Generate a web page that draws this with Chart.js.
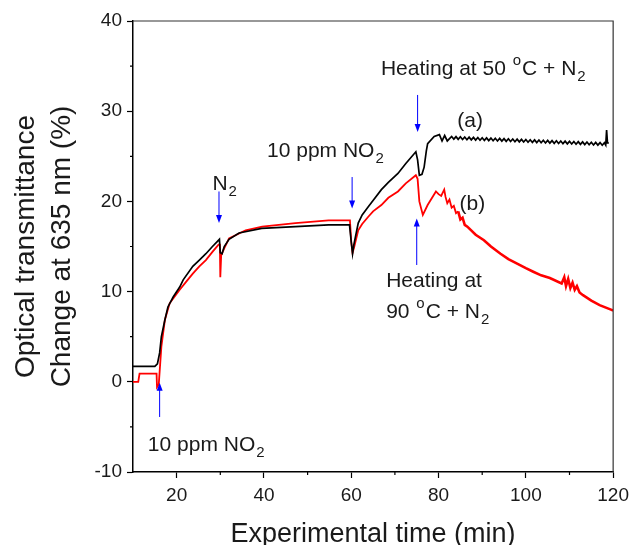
<!DOCTYPE html>
<html><head><meta charset="utf-8">
<script src="https://cdn.jsdelivr.net/npm/chart.js@4.4.1/dist/chart.umd.min.js"></script>
<style>html,body{margin:0;background:#fff}canvas{display:block}</style>
</head><body>
<canvas id="c" width="635" height="545"></canvas>
<script>
'use strict';
// Optical transmittance change vs. time, film (a) black, film (b) red.
Chart.defaults.font.family = 'Arial, "Liberation Sans", sans-serif';
Chart.defaults.color = '#1a1a1a';

// --- (a) 50 °C heating curve
const timeA = [10, 15.0, 15.6, 16.1, 16.5, 17.3, 18.0, 19.2, 20.7, 21.5, 23.7, 25.2, 26.7, 28.2, 29.8, 30.0, 30.4, 30.9, 32.0, 34.3, 39.5, 47.2, 54.8, 59.6,
  60.0, 60.3, 60.6, 61.6, 62.5, 63.9, 65.0, 66.9, 68.5, 70.7, 72.5, 74.8, 75.2, 75.6, 76.2, 76.7, 77.2, 77.5, 79.0, 80.2, 80.8, 81.4, 82.0,
  83, 83.5, 84, 84.5, 85, 85.5, 86, 86.5, 87, 87.5, 88, 88.5, 89, 89.5, 90, 90.5, 91, 91.5, 92, 92.5,
  93, 93.5, 94, 94.5, 95, 95.5, 96, 96.5, 97, 97.5, 98, 98.5, 99, 99.5, 100, 100.5, 101, 101.5, 102, 102.5,
  103, 103.5, 104, 104.5, 105, 105.5, 106, 106.5, 107, 107.5, 108, 108.5, 109, 109.5, 110, 110.5, 111, 111.5, 112, 112.5,
  113, 113.5, 114, 114.5, 115, 115.5, 116, 116.5, 117, 117.5, 118.0, 118.3, 118.5, 118.7, 119.0];
const valA = [1.7, 1.7, 2.0, 3.2, 5.0, 6.85, 8.3, 9.4, 10.5, 11.3, 12.8, 13.5, 14.2, 15.0, 15.8, 14.3, 14.2, 15.0, 15.8, 16.5, 17.0, 17.2, 17.4, 17.4,
  15.5, 14.2, 15.2, 17.6, 18.5, 19.4, 20.1, 21.3, 22.1, 23.1, 24.2, 25.5, 24.6, 22.9, 23.0, 23.8, 25.6, 26.4, 27.2, 27.4, 26.7, 27.3, 26.7,
  27.20, 26.90, 27.18, 26.88, 27.16, 26.86, 27.14, 26.84, 27.12, 26.82, 27.10, 26.80, 27.08, 26.78, 27.06, 26.76, 27.04, 26.74, 27.02, 26.72,
  27.00, 26.70, 26.98, 26.68, 26.96, 26.66, 26.94, 26.64, 26.92, 26.62, 26.90, 26.60, 26.88, 26.58, 26.86, 26.56, 26.84, 26.54, 26.82, 26.52,
  26.80, 26.50, 26.78, 26.48, 26.76, 26.46, 26.74, 26.44, 26.72, 26.42, 26.70, 26.40, 26.68, 26.38, 26.66, 26.36, 26.64, 26.34, 26.62, 26.32,
  26.60, 26.30, 26.58, 26.28, 26.56, 26.26, 26.54, 26.24, 26.52, 26.22, 26.50, 26.25, 27.9, 26.5, 26.45];

// --- (b) 90 °C heating curve
const timeB = [10, 11.2, 11.5, 15.4, 15.5, 15.9, 16.5, 17.3, 18.4, 20.7, 22.2, 23.7, 25.2, 26.7, 28.2, 29.6, 29.9, 30.0, 30.2, 30.9, 32.0, 35.8, 39.6,
  47.2, 54.8, 59.7, 60.0, 60.3, 60.7, 61.6, 62.5, 63.9, 65.0, 66.9, 68.5, 70.7, 72.5, 74.8, 75.2, 75.6, 76.4, 77.5, 79.4, 80.0, 80.6, 81.3, 81.6,
  82.0, 82.5, 83.0, 83.5, 84.0, 84.5, 85.0, 85.5, 86.0, 86.6, 88.5, 90.4, 92.0, 94.2, 96.0, 98.0, 100.0, 101.7, 103.5, 105.5, 108.2, 108.8, 109.2,
  109.7, 110.2, 110.7, 111.2, 111.7, 112.3, 113.1, 115.0, 116.9, 119.5, 120];
const valB = [0.0, 0.0, 0.9, 0.9, -0.6, -0.3, 3.9, 6.85, 8.7, 10.2, 11.1, 12.0, 12.8, 13.5, 14.4, 15.2, 15.2, 11.6, 14.0, 14.8, 15.9, 16.8, 17.2,
  17.6, 17.9, 17.9, 15.5, 14.3, 15.0, 16.8, 17.5, 18.3, 18.9, 19.6, 20.4, 21.1, 22.0, 22.9, 22.5, 20.0, 18.5, 19.6, 21.1, 20.8, 20.6, 21.3, 20.5,
  19.8, 20.2, 19.3, 19.5, 18.7, 18.9, 18.0, 18.2, 17.4, 17.2, 16.3, 15.7, 15.0, 14.2, 13.6, 13.1, 12.6, 12.2, 11.8, 11.5, 10.9, 11.6, 10.6,
  11.4, 10.4, 11.0, 10.2, 10.6, 9.9, 9.6, 9.0, 8.5, 8.0, 7.9];

const xTicks = [20, 40, 60, 80, 100, 120], xMinor = [30, 50, 70, 90, 110];
const yTicks = [-10, 0, 10, 20, 30, 40], yMinor = [-5, 5, 15, 25, 35];

// Annotations in data units: [text, 'sub'|'sup'|undefined]
const NOTES = [
  { x: 13.4, y: -7.7, parts: [['10 ppm NO'], ['2', 'sub']] },
  { x: 28.2, y: 21.3, parts: [['N'], ['2', 'sub']] },
  { x: 40.7, y: 24.9, parts: [['10 ppm NO'], ['2', 'sub']] },
  { x: 66.8, y: 34.0, parts: [['Heating at 50 '], ['o', 'sup'], ['C + N'], ['2', 'sub']] },
  { x: 84.3, y: 28.2, parts: [['(a)']] },
  { x: 84.8, y: 19.0, parts: [['(b)']] },
  { x: 68.0, y: 10.5, parts: [['Heating at']] },
  { x: 68.0, y: 7.1, parts: [['90 '], ['o', 'sup'], ['C + N'], ['2', 'sub']] },
];
const ARROWS = [
  { x: 16.1, from: -3.9, to: -0.1 },
  { x: 29.7, from: 21.1, to: 17.6 },
  { x: 60.2, from: 22.7, to: 19.2 },
  { x: 75.2, from: 31.8, to: 27.7 },
  { x: 75.0, from: 12.95, to: 18.1 },
];

const pts = (t, v) => t.map((x, i) => ({ x, y: v[i] }));
const FONT = 'Arial, "Liberation Sans", sans-serif';

const extras = {
  id: 'extras',
  afterDraw(ch) {
    const { ctx, chartArea: a, scales: { x, y } } = ch;
    ctx.save();
    // frame top/right
    ctx.strokeStyle = '#333'; ctx.lineWidth = 1.2;
    ctx.beginPath(); ctx.moveTo(a.left, a.top); ctx.lineTo(a.right, a.top); ctx.lineTo(a.right, a.bottom); ctx.stroke();
    // minor ticks
    ctx.strokeStyle = '#000'; ctx.lineWidth = 1.2; ctx.beginPath();
    xMinor.forEach(v => { const px = x.getPixelForValue(v); ctx.moveTo(px, a.bottom); ctx.lineTo(px, a.bottom + 3); });
    yMinor.forEach(v => { const py = y.getPixelForValue(v); ctx.moveTo(a.left, py); ctx.lineTo(a.left - 3, py); });
    ctx.stroke();
    // arrows
    ctx.strokeStyle = '#0000ff'; ctx.fillStyle = '#0000ff'; ctx.lineWidth = 1;
    ARROWS.forEach(ar => {
      const px = x.getPixelForValue(ar.x), p0 = y.getPixelForValue(ar.from), p1 = y.getPixelForValue(ar.to);
      const dir = p1 > p0 ? 1 : -1;
      ctx.beginPath(); ctx.moveTo(px, p0); ctx.lineTo(px, p1 - dir * 6); ctx.stroke();
      ctx.beginPath(); ctx.moveTo(px, p1); ctx.lineTo(px - 3, p1 - dir * 8); ctx.lineTo(px + 3, p1 - dir * 8); ctx.closePath(); ctx.fill();
    });
    // text notes
    ctx.fillStyle = '#1a1a1a'; ctx.textBaseline = 'alphabetic'; ctx.textAlign = 'left';
    NOTES.forEach(n => {
      let px = x.getPixelForValue(n.x); const py = y.getPixelForValue(n.y);
      n.parts.forEach(([s, kind]) => {
        const small = kind === 'sub' || kind === 'sup';
        ctx.font = (small ? 15 : 21) + 'px ' + FONT;
        const dy = kind === 'sub' ? 6 : kind === 'sup' ? -10 : 0;
        ctx.fillText(s, px + (small ? 1 : 0), py + dy);
        px += ctx.measureText(s).width + (small ? 2 : 0);
      });
    });
    ctx.restore();
  },
};

new Chart(document.getElementById('c'), {
  type: 'line',
  data: {
    datasets: [
      { label: '(a)', data: pts(timeA, valA), borderColor: '#000000', borderWidth: 1.7, pointRadius: 0, tension: 0 },
      { label: '(b)', data: pts(timeB, valB), borderColor: '#ff0000', borderWidth: 1.8, pointRadius: 0, tension: 0,
        segment: { borderWidth: c => (c.p0.parsed.x > 84 ? 2.6 : 1.8) } },
    ],
  },
  options: {
    responsive: false, animation: false,
    layout: { padding: { top: 21, right: 18, left: 0, bottom: 0 } },
    plugins: { legend: { display: false }, tooltip: { enabled: false } },
    scales: {
      x: {
        type: 'linear', min: 10, max: 120,
        afterBuildTicks: s => { s.ticks = xTicks.map(value => ({ value })); },
        afterFit: s => { s.height = 73; },
        grid: { drawOnChartArea: false, drawTicks: true, tickLength: 6, tickColor: '#000', tickWidth: 1.2 },
        border: { display: true, color: '#000', width: 1.5 },
        ticks: { font: { size: 19 }, padding: 6, color: '#1a1a1a', maxRotation: 0, autoSkip: false },
        title: { display: true, text: 'Experimental time (min)', font: { size: 27, lineHeight: 0.8 }, padding: 0, color: '#1a1a1a' },
      },
      y: {
        min: -10, max: 40,
        afterBuildTicks: s => { s.ticks = yTicks.map(value => ({ value })); },
        afterFit: s => { s.width = 133; },
        grid: { drawOnChartArea: false, drawTicks: true, tickLength: 6, tickColor: '#000', tickWidth: 1.2 },
        border: { display: true, color: '#000', width: 1.5 },
        ticks: { font: { size: 19 }, padding: 5, color: '#1a1a1a', autoSkip: false },
        title: { display: true, text: ['Optical transmittance', 'Change at 635 nm (%)'], font: { size: 28, lineHeight: 1.3 }, padding: { top: 8, bottom: 0 }, color: '#1a1a1a' },
      },
    },
  },
  plugins: [extras],
});
</script>
</body></html>
